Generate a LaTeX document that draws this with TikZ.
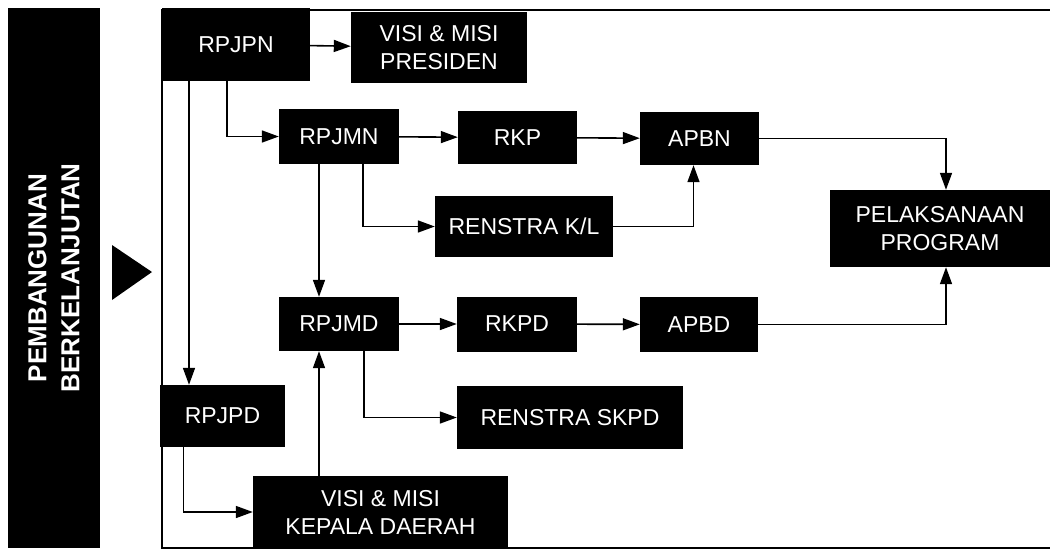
\documentclass[tikz,border=0pt]{standalone}
\usepackage{fontspec}
\setmainfont{Liberation Sans}
\usetikzlibrary{arrows.meta}
\begin{document}
\begin{tikzpicture}[x=1pt,y=-1pt,
  box/.style={fill=black,text=white,inner sep=0pt,align=center,font=\fontsize{23}{28}\selectfont},
  arr/.style={line width=1.6pt,-{Triangle[length=17pt,width=12pt]}},
  frameline/.style={line width=1.3pt}]
\useasboundingbox (0,0) rectangle (1050,550);
% left bar
\node[fill=black,minimum width=92pt,minimum height=540pt,inner sep=0pt] (bar) at (54,278) {};
\node[rotate=90,text=white,align=center,font=\bfseries\fontsize{26}{33}\selectfont] (bartext) at (bar.center) {PEMBANGUNAN\\BERKELANJUTAN};
\fill (112,245) -- (152,272) -- (112,300) -- cycle;
% frame
\draw[frameline] (1050,10) -- (162,10) -- (162,548) -- (1050,548);
% boxes
\node[box,minimum width=148pt,minimum height=73pt] (rpjpn) at (236,44.5) {RPJPN};
\node[box,minimum width=176pt,minimum height=71pt] (visip) at (439,47.5) {VISI \& MISI\\PRESIDEN};
\node[box,minimum width=120pt,minimum height=55pt] (rpjmn) at (339,136.5) {RPJMN};
\node[box,minimum width=119pt,minimum height=53pt] (rkp) at (517.5,137.5) {RKP};
\node[box,minimum width=119pt,minimum height=53pt] (apbn) at (699.5,138.5) {APBN};
\node[box,minimum width=178pt,minimum height=61pt] (kl) at (524,226.5) {RENSTRA K/L};
\node[box,minimum width=220pt,minimum height=77pt] (pel) at (940,228.5) {PELAKSANAAN\\PROGRAM};
\node[box,minimum width=120pt,minimum height=54pt] (rpjmd) at (339,324) {RPJMD};
\node[box,minimum width=120pt,minimum height=55pt] (rkpd) at (517,324) {RKPD};
\node[box,minimum width=118pt,minimum height=55pt] (apbd) at (699,324.5) {APBD};
\node[box,minimum width=226pt,minimum height=63pt] (skpd) at (570,417.5) {RENSTRA SKPD};
\node[box,minimum width=125pt,minimum height=62pt] (rpjpd) at (222.5,416) {RPJPD};
\node[box,minimum width=255pt,minimum height=72pt] (vkd) at (380.5,512) {VISI \& MISI\\KEPALA DAERAH};
% helper coordinates
\coordinate (pnA) at ([xshift=-47pt]rpjpn.south);
\coordinate (pnB) at ([xshift=-9pt]rpjpn.south);
\coordinate (mnA) at ([xshift=-20pt]rpjmn.south);
\coordinate (mnB) at ([xshift=24pt]rpjmn.south);
\coordinate (mdA) at ([xshift=-20pt]rpjmd.south);
\coordinate (mdB) at ([xshift=25pt]rpjmd.south);
\coordinate (pdA) at ([xshift=-39pt]rpjpd.south);
\coordinate (apA) at ([xshift=-6pt]apbn.south);
\coordinate (peN) at ([xshift=6pt]pel.north);
\coordinate (peS) at ([xshift=6pt]pel.south);
% connectors
\draw[arr] (rpjpn) -- (visip);
\draw[arr] (pnB) |- (rpjmn.west);
\draw[arr] (pnA) -- (pnA |- rpjpd.north);
\draw[arr] (rpjmn) -- (rkp);
\draw[arr] (rkp) -- (apbn);
\draw[arr] (mnB) |- (kl.west);
\draw[arr] (kl.east) -| (apA);
\draw[arr] (apbn.east) -| (peN);
\draw[arr] (mnA) -- (mnA |- rpjmd.north);
\draw[arr] (rpjmd) -- (rkpd);
\draw[arr] (rkpd) -- (apbd);
\draw[arr] (apbd.east) -| (peS);
\draw[arr] (mdB) |- (skpd.west);
\draw[arr] (pdA) |- (vkd.west);
\draw[arr] (mdA |- vkd.north) -- (mdA);
\end{tikzpicture}
\end{document}
